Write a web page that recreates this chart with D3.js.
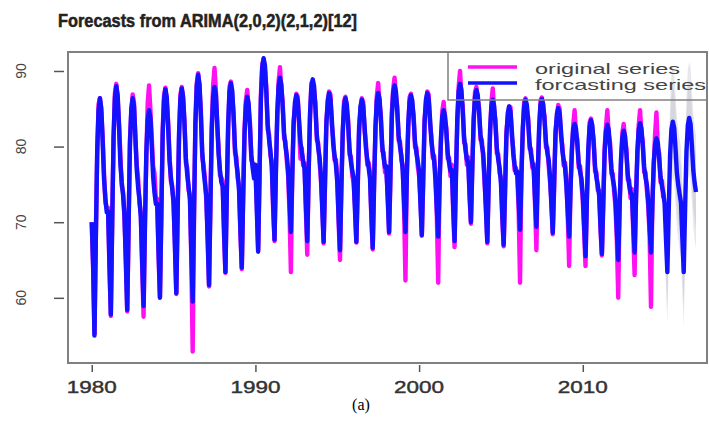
<!DOCTYPE html>
<html>
<head>
<meta charset="utf-8">
<script src="https://cdn.jsdelivr.net/npm/d3@7"></script>
<style>
  body { margin: 0; background: #fff; }
  svg { display: block; }
</style>
</head>
<body>
<svg id="chart"></svg>
<script>
// monthly values, one row per year (Jan..Dec)
const startYear = 1980;

const original = [
  [70.0, 64.0, 55.2, 68.4, 79.0, 85.6, 86.4, 84.5, 81.3, 76.5, 72.6, 71.8],
  [71.9, 63.8, 57.6, 70.5, 80.8, 87.1, 88.3, 86.2, 83.1, 78.9, 74.8, 73.9],
  [70.4, 65.3, 58.2, 68.8, 80.9, 84.6, 86.9, 85.8, 80.7, 77.6, 75.8, 72.5],
  [71.2, 63.9, 57.5, 70.1, 78.6, 85.7, 88.1, 84.9, 81.2, 77.4, 76.5, 73.1],
  [73.1, 65.4, 60.1, 70.4, 82.2, 86.8, 87.8, 85.9, 83.4, 79.1, 75.4, 74.8],
  [72.1, 67.3, 60.5, 72.0, 81.1, 86.9, 87.9, 86.1, 83.5, 77.8, 77.2, 74.2],
  [73.6, 64.8, 52.9, 70.8, 83.6, 88.4, 89.7, 87.6, 84.9, 78.6, 77.5, 75.8],
  [72.8, 68.3, 61.5, 72.9, 83.0, 88.1, 90.4, 87.4, 82.6, 79.8, 76.2, 75.9],
  [75.4, 68.2, 63.3, 74.1, 82.3, 87.9, 88.6, 86.7, 84.5, 79.2, 78.6, 75.8],
  [74.9, 68.4, 63.8, 73.6, 82.3, 86.1, 87.5, 85.0, 83.1, 78.2, 77.8, 76.5],
  [76.9, 72.4, 66.3, 75.7, 86.8, 90.9, 91.5, 90.1, 87.8, 82.2, 81.6, 78.8],
  [78.0, 71.6, 67.5, 77.0, 83.7, 88.6, 90.5, 87.6, 85.9, 81.1, 80.7, 78.1],
  [76.1, 71.2, 63.4, 76.6, 83.4, 85.3, 87.0, 86.6, 82.8, 78.4, 79.8, 77.5],
  [77.8, 71.5, 65.7, 76.8, 83.6, 88.4, 88.7, 87.4, 85.7, 80.9, 80.5, 78.0],
  [75.6, 72.4, 67.2, 74.6, 83.5, 85.5, 87.3, 86.9, 82.9, 81.1, 78.2, 78.3],
  [76.0, 70.0, 65.0, 75.0, 81.4, 86.0, 86.6, 85.0, 83.5, 78.9, 78.7, 76.2],
  [75.2, 72.2, 67.3, 74.2, 82.8, 84.7, 86.4, 85.9, 82.1, 80.5, 77.6, 77.9],
  [76.5, 70.4, 66.4, 75.5, 81.9, 86.7, 88.4, 85.7, 84.1, 79.4, 79.2, 76.6],
  [76.7, 73.7, 68.5, 75.8, 84.5, 87.6, 89.1, 86.8, 85.3, 80.8, 80.7, 78.2],
  [77.5, 71.4, 62.3, 76.6, 82.1, 86.5, 87.0, 85.5, 84.2, 79.9, 79.9, 77.4],
  [76.1, 73.1, 68.2, 75.1, 83.7, 85.6, 87.3, 86.9, 83.0, 81.4, 78.5, 78.8],
  [76.3, 70.9, 62.0, 75.5, 80.4, 84.7, 85.9, 83.5, 82.5, 78.4, 78.5, 76.1],
  [77.6, 71.4, 66.7, 76.5, 83.0, 87.9, 90.0, 86.9, 85.3, 80.5, 80.3, 77.6],
  [78.6, 73.2, 69.8, 77.7, 83.0, 87.2, 87.9, 86.2, 85.1, 80.9, 80.9, 78.4],
  [75.2, 72.2, 67.2, 75.6, 81.4, 85.9, 87.7, 84.8, 83.5, 79.1, 79.0, 76.5],
  [75.9, 70.3, 66.8, 73.6, 82.0, 83.8, 85.3, 85.2, 81.3, 79.8, 76.9, 77.2],
  [76.0, 71.5, 62.0, 76.6, 81.7, 85.9, 86.4, 84.9, 83.8, 79.7, 79.7, 77.2],
  [77.7, 72.4, 66.3, 76.9, 81.9, 86.1, 86.5, 85.0, 84.0, 79.9, 79.9, 77.5],
  [75.3, 72.9, 68.4, 74.5, 82.2, 83.7, 85.5, 85.0, 81.4, 80.2, 77.5, 77.9],
  [75.5, 70.7, 64.2, 74.8, 79.0, 82.9, 84.8, 81.8, 81.0, 77.2, 77.4, 75.1],
  [72.9, 68.8, 64.2, 73.4, 78.8, 83.2, 83.7, 82.2, 81.0, 76.7, 76.6, 74.2],
  [74.2, 68.9, 65.6, 71.9, 79.8, 82.6, 84.8, 81.6, 80.5, 76.4, 76.4, 74.0],
  [72.0, 67.5, 60.0, 72.5, 77.6, 81.8, 83.0, 80.8, 79.7, 75.6, 75.6, 73.2],
  [74.4, 68.6, 63.0, 73.5, 78.6, 82.8, 84.8, 81.8, 80.7, 76.6, 76.6, 74.2],
  [72.1, 68.2, 58.8, 72.7, 77.1, 81.6, 84.5, 79.8, 79.1, 75.3, 75.5, 73.2]
];

const fitted = [
  [70.0, 64.4, 55.0, 67.6, 79.5, 84.8, 86.4, 85.1, 80.7, 75.7, 73.2, 71.3],
  [71.4, 64.4, 57.8, 69.9, 81.4, 86.5, 88.0, 86.8, 82.6, 77.7, 75.3, 73.5],
  [71.0, 64.6, 58.4, 69.6, 80.2, 85.0, 86.4, 85.3, 81.4, 76.9, 74.6, 73.0],
  [70.6, 64.6, 58.9, 69.3, 79.1, 83.5, 84.8, 83.8, 80.1, 76.0, 73.9, 72.4],
  [72.4, 66.1, 60.0, 71.0, 81.5, 86.2, 87.6, 86.5, 82.6, 78.2, 76.0, 74.4],
  [72.8, 66.6, 60.6, 71.4, 81.7, 86.3, 87.7, 86.6, 82.8, 78.5, 76.3, 74.7],
  [73.0, 66.1, 59.5, 71.5, 82.9, 88.0, 89.5, 88.3, 84.1, 79.3, 76.9, 75.1],
  [73.5, 67.5, 61.7, 72.2, 82.1, 86.6, 87.9, 86.9, 83.2, 79.0, 76.9, 75.3],
  [74.7, 68.9, 63.4, 73.4, 82.9, 87.2, 88.4, 87.4, 83.9, 79.9, 77.9, 76.4],
  [74.2, 69.0, 64.0, 73.0, 81.6, 85.5, 86.6, 85.7, 82.5, 78.9, 77.1, 75.8],
  [77.6, 71.7, 66.1, 76.3, 86.1, 90.4, 91.7, 90.7, 87.1, 83.0, 80.9, 79.4],
  [77.3, 72.4, 67.7, 76.3, 84.4, 88.0, 89.1, 88.2, 85.2, 81.8, 80.1, 78.8],
  [76.8, 72.7, 68.7, 75.9, 82.8, 85.9, 86.8, 86.1, 83.5, 80.6, 79.2, 78.1],
  [77.1, 72.2, 67.5, 76.1, 84.2, 87.8, 88.9, 88.0, 85.0, 81.6, 79.9, 78.6],
  [76.3, 71.7, 67.4, 75.3, 82.8, 86.1, 87.1, 86.3, 83.6, 80.4, 78.8, 77.6],
  [75.3, 70.7, 66.3, 74.3, 82.0, 85.4, 86.4, 85.6, 82.8, 79.6, 78.0, 76.8],
  [75.9, 71.5, 67.4, 74.9, 82.1, 85.3, 86.2, 85.4, 82.8, 79.8, 78.3, 77.2],
  [75.8, 71.1, 66.6, 74.8, 82.6, 86.1, 87.1, 86.3, 83.4, 80.1, 78.5, 77.3],
  [77.4, 73.0, 68.7, 76.5, 83.8, 87.1, 88.1, 87.3, 84.6, 81.5, 80.0, 78.8],
  [76.8, 72.7, 68.7, 75.9, 82.8, 85.9, 86.8, 86.1, 83.5, 80.6, 79.2, 78.1],
  [76.8, 72.4, 68.3, 75.8, 83.0, 86.2, 87.1, 86.3, 83.7, 80.7, 79.2, 78.1],
  [75.6, 71.8, 68.1, 74.8, 81.1, 84.0, 84.8, 84.1, 81.8, 79.1, 77.8, 76.8],
  [76.9, 72.1, 67.5, 75.8, 83.7, 87.3, 88.3, 87.5, 84.6, 81.2, 79.6, 78.3],
  [77.9, 73.9, 70.0, 77.0, 83.7, 86.6, 87.5, 86.8, 84.4, 81.6, 80.2, 79.1],
  [75.9, 71.5, 67.4, 74.9, 82.1, 85.3, 86.2, 85.4, 82.8, 79.8, 78.3, 77.2],
  [75.2, 71.0, 67.0, 74.3, 81.3, 84.4, 85.3, 84.6, 82.0, 79.1, 77.6, 76.5],
  [76.7, 72.8, 69.0, 75.9, 82.4, 85.3, 86.2, 85.5, 83.1, 80.4, 79.0, 77.9],
  [77.0, 73.1, 69.4, 76.2, 82.6, 85.5, 86.3, 85.6, 83.3, 80.6, 79.2, 78.2],
  [76.0, 72.2, 68.6, 75.2, 81.5, 84.3, 85.1, 84.4, 82.1, 79.5, 78.2, 77.2],
  [74.8, 71.4, 68.1, 74.1, 79.7, 82.3, 83.0, 82.4, 80.3, 77.9, 76.7, 75.8],
  [73.6, 69.5, 65.5, 72.7, 79.5, 82.6, 83.5, 82.8, 80.3, 77.4, 75.9, 74.9],
  [73.5, 69.6, 65.8, 72.6, 79.1, 82.0, 82.9, 82.2, 79.8, 77.1, 75.7, 74.7],
  [72.7, 68.8, 65.0, 71.8, 78.3, 81.2, 82.1, 81.4, 79.0, 76.3, 74.9, 73.9],
  [73.7, 69.8, 66.0, 72.8, 79.3, 82.2, 83.1, 82.4, 80.0, 77.3, 75.9, 74.9],
  [72.8, 69.3, 66.0, 72.0, 77.8, 80.3, 81.1, 80.5, 78.4, 76.0, 74.8, 73.9]
];

// 2015-2016 point forecasts and interval half widths
const forecastMean = [72.4, 67.8, 63.4, 71.4, 78.9, 82.3, 83.3, 82.5, 79.7, 76.5, 74.9, 73.7,
                      72.6, 67.9, 63.4, 71.6, 79.3, 82.8, 83.8, 83.0, 80.1, 76.9, 75.2, 74.0];
const half80 = [4.3, 4.4, 4.4, 4.5, 4.6, 4.6, 4.8, 4.8, 4.8, 4.8, 4.8, 4.8,
                4.8, 4.8, 4.8, 4.8, 4.8, 4.8, 4.8, 4.8, 4.8, 4.9, 4.9, 4.9];
const half95 = [6.6, 6.7, 6.8, 6.9, 7.0, 7.1, 7.3, 7.3, 7.3, 7.3, 7.3, 7.3,
                7.3, 7.3, 7.3, 7.4, 7.4, 7.4, 7.4, 7.4, 7.4, 7.5, 7.5, 7.5];

const xTicks = [1980, 1990, 2000, 2010];
const yTicks = [60, 70, 80, 90];
const legendLabels = ["original series", "forcasting series"];
const legendColors = ["#ff10f0", "#1212ff"];
const titleText = "Forecasts from ARIMA(2,0,2)(2,1,2)[12]";

const width = 709, height = 425;
const box = { left: 68, top: 52, right: 707, bottom: 363 };

function toPoints(rows, t0) {
  return rows.flat().map((v, i) => ({ t: t0 + i / 12, v: v }));
}

function drawChart() {
  var svg = d3.select("#chart")
      .attr("width", width)
      .attr("height", height)
      .style("font-family", "'Liberation Sans', Arial, sans-serif");

  var x = d3.scaleLinear()
    .domain([1978.549, 2017.589])
    .range([box.left, box.right]);

  var y = d3.scaleLinear()
    .domain([51.38, 92.51])
    .range([box.bottom, box.top]);

  var fcStart = startYear + original.length;
  var orig = toPoints(original, startYear);
  var fit = toPoints(fitted, startYear);
  var fc = forecastMean.map((v, i) => ({ t: fcStart + i / 12, v: v, h80: half80[i], h95: half95[i] }));

  var line = d3.line()
    .x(d => x(d.t))
    .y(d => y(d.v));

  // prediction intervals, very faint in the original
  svg.append("path")
    .datum(fc)
    .attr("fill", "#e7e7ec")
    .attr("d", d3.area().x(d => x(d.t)).y0(d => y(d.v - d.h95)).y1(d => y(d.v + d.h95)));

  svg.append("path")
    .datum(fc)
    .attr("fill", "#d6d6de")
    .attr("d", d3.area().x(d => x(d.t)).y0(d => y(d.v - d.h80)).y1(d => y(d.v + d.h80)));

  svg.append("path")
    .datum(orig)
    .attr("fill", "none")
    .attr("stroke", legendColors[0])
    .attr("stroke-width", 4.4)
    .attr("stroke-linejoin", "round")
    .attr("d", line);

  svg.append("path")
    .datum(fit.concat(fc))
    .attr("fill", "none")
    .attr("stroke", legendColors[1])
    .attr("stroke-width", 4.4)
    .attr("stroke-linejoin", "round")
    .attr("d", line);

  // plot frame
  svg.append("rect")
    .attr("x", box.left)
    .attr("y", box.top)
    .attr("width", box.right - box.left)
    .attr("height", box.bottom - box.top)
    .attr("fill", "none")
    .attr("stroke", "#808080")
    .attr("stroke-width", 2);

  // axes (ticks only, labels drawn by hand)
  var xAxis = svg.append("g")
    .attr("transform", "translate(0," + (box.bottom + 2) + ")")
    .call(d3.axisBottom(x).tickValues(xTicks).tickSize(7).tickFormat(""));
  xAxis.select(".domain").remove();
  xAxis.selectAll("line").attr("stroke", "#555").attr("stroke-width", 1.5);

  var yAxis = svg.append("g")
    .attr("transform", "translate(" + (box.left - 4) + ",0)")
    .call(d3.axisLeft(y).tickValues(yTicks).tickSize(10).tickFormat(""));
  yAxis.select(".domain").remove();
  yAxis.selectAll("line").attr("stroke", "#555").attr("stroke-width", 1.5);

  svg.selectAll(".xlab")
    .data(xTicks)
    .enter()
    .append("text")
    .attr("class", "xlab")
    .attr("x", d => x(d))
    .attr("y", 393)
    .attr("text-anchor", "middle")
    .attr("font-size", 16)
    .attr("textLength", 50)
    .attr("lengthAdjust", "spacingAndGlyphs")
    .attr("fill", "#333")
    .attr("stroke", "#333")
    .attr("stroke-width", 0.4)
    .text(d => d);

  svg.selectAll(".ylab")
    .data(yTicks)
    .enter()
    .append("text")
    .attr("class", "ylab")
    .attr("transform", d => "translate(26," + y(d) + ") rotate(-90)")
    .attr("text-anchor", "middle")
    .attr("font-size", 14)
    .attr("fill", "#444")
    .text(d => d);

  // title
  svg.append("text")
    .attr("x", 58)
    .attr("y", 27)
    .attr("font-size", 17.5)
    .attr("font-weight", "bold")
    .attr("textLength", 299)
    .attr("lengthAdjust", "spacingAndGlyphs")
    .attr("fill", "#222")
    .attr("stroke", "#222")
    .attr("stroke-width", 0.5)
    .text(titleText);

  // legend (transparent, like R)
  svg.append("rect")
    .attr("x", 448)
    .attr("y", box.top)
    .attr("width", box.right - 448)
    .attr("height", 48)
    .attr("fill", "none")
    .attr("stroke", "#808080")
    .attr("stroke-width", 1.5);

  var legendY = [67, 83];
  var legendW = [145, 171];
  legendLabels.forEach(function(label, i) {
    svg.append("line")
      .attr("x1", 468)
      .attr("x2", 517)
      .attr("y1", legendY[i])
      .attr("y2", legendY[i])
      .attr("stroke", legendColors[i])
      .attr("stroke-width", 3.3);
    svg.append("text")
      .attr("x", 535)
      .attr("y", legendY[i] + 7)
      .attr("font-size", 15)
      .attr("textLength", legendW[i])
      .attr("lengthAdjust", "spacingAndGlyphs")
      .attr("fill", "#444")
      .text(label);
  });

  // panel caption
  svg.append("text")
    .attr("x", 361)
    .attr("y", 410)
    .attr("text-anchor", "middle")
    .attr("font-family", "'Liberation Serif', 'Times New Roman', serif")
    .attr("font-size", 16)
    .attr("fill", "#000")
    .text("(a)");
}

drawChart();
</script>
</body>
</html>
